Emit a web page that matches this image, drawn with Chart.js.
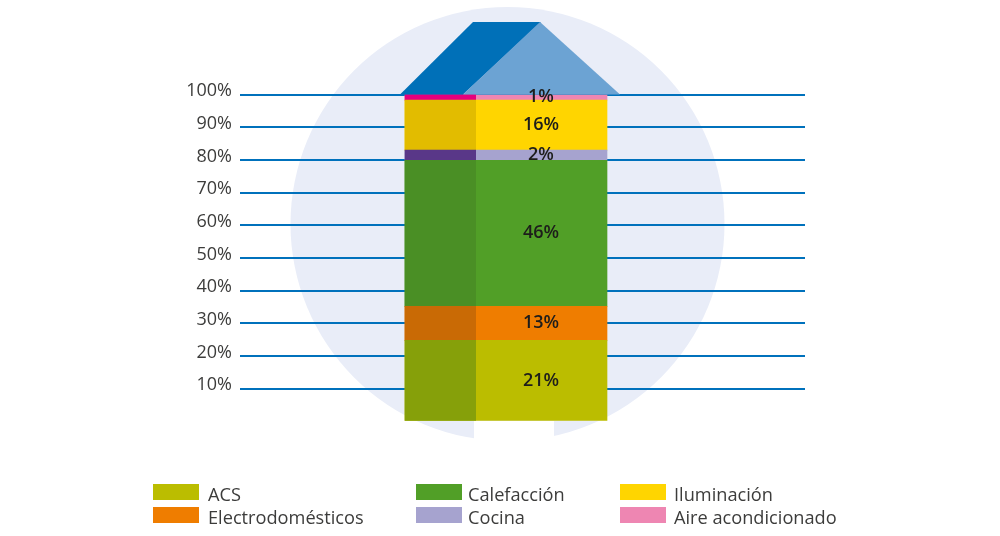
<!DOCTYPE html>
<html>
<head>
<meta charset="utf-8">
<style>
  html, body { margin: 0; padding: 0; background: #fff; }
  canvas { display: block; }
</style>
<script src="https://cdn.jsdelivr.net/npm/chart.js@4/dist/chart.umd.min.js"></script>
</head>
<body>
<canvas id="houseChart" width="1000" height="536"></canvas>
<script>
// de abajo arriba, alturas (no coinciden del todo con las etiquetas)
const categories = ['ACS', 'Electrodomésticos', 'Calefacción', 'Cocina', 'Iluminación', 'Aire acondicionado'];
const heights = [24.8, 10.4, 44.7, 3.1, 15.3, 1.7];
const printedLabels = ['21%', '13%', '46%', '2%', '16%', '1%'];
const frontColors = ['#BBBD00', '#EF7D00', '#519F27', '#A6A3CF', '#FFD500', '#EE86B2'];
const sideColors = ['#86A00A', '#C96A05', '#4A8F25', '#593788', '#E2BC00', '#E5007D'];

const FONT = '"Open Sans", Lato, sans-serif';
const LINE = '#0071BC';
const BAR_W = 202;
const SIDE_W = 71;

const legendRows = [
  { x: 153, text: 208, items: [0, 1] },
  { x: 416, text: 468, items: [2, 3] },
  { x: 620, text: 674, items: [4, 5] }
];

// circulo y notch de fondo
const backdrop = {
  id: 'backdrop',
  beforeDraw(chart) {
    const c = chart.ctx;
    c.save();
    c.fillStyle = '#E9EDF8';
    c.beginPath();
    c.arc(507.5, 224, 217, 0, Math.PI * 2);
    c.fill();
    c.fillStyle = '#fff';
    c.fillRect(474, 421, 80, 30);
    c.restore();
  }
};

// tejado, porcentajes y leyenda
const overlay = {
  id: 'overlay',
  afterDatasetsDraw(chart) {
    const c = chart.ctx;
    const y = chart.scales.y;
    const base = y.getPixelForValue(100);
    c.save();
    c.fillStyle = '#0070B8';
    c.beginPath();
    c.moveTo(473, 22); c.lineTo(541, 22); c.lineTo(463, base); c.lineTo(400, base);
    c.closePath(); c.fill();
    c.fillStyle = '#6CA3D3';
    c.beginPath();
    c.moveTo(540, 22); c.lineTo(620, base); c.lineTo(463, base);
    c.closePath(); c.fill();

    c.fillStyle = '#1D1D1B';
    c.font = '600 18px ' + FONT;
    c.textAlign = 'center';
    c.textBaseline = 'middle';
    let sum = 0;
    heights.forEach((h, i) => {
      c.fillText(printedLabels[i], 541, y.getPixelForValue(sum + h / 2) - 0.5);
      sum += h;
    });

    c.font = '18.2px ' + FONT;
    c.textAlign = 'left';
    c.textBaseline = 'alphabetic';
    legendRows.forEach(col => {
      col.items.forEach((idx, row) => {
        const top = 484 + row * 23;
        c.fillStyle = frontColors[idx];
        c.fillRect(col.x, top, 46, 16);
        c.fillStyle = '#3C3C3B';
        c.fillText(categories[idx], col.text, top + 16.5);
      });
    });
    c.restore();
  }
};

const lineColor = ctx => ctx.tick && ctx.tick.value === 0 ? 'rgba(0,0,0,0)' : LINE;

const datasets = [];
categories.forEach((name, i) => {
  datasets.push({
    label: name,
    data: [heights[i]],
    backgroundColor: frontColors[i],
    stack: 'front',
    grouped: false,
    barThickness: BAR_W,
    maxBarThickness: BAR_W,
    order: 2
  });
});
categories.forEach((name, i) => {
  datasets.push({
    label: name + ' (lateral)',
    data: [heights[i]],
    backgroundColor: sideColors[i],
    stack: 'side',
    grouped: false,
    barThickness: BAR_W,
    maxBarThickness: BAR_W,
    order: 1,
    // solo la franja izquierda de la barra
    clip: { left: 0, top: 2, bottom: 2, right: (405 + SIDE_W) - 772 }
  });
});

new Chart(document.getElementById('houseChart'), {
  type: 'bar',
  data: { labels: ['Consumo'], datasets },
  plugins: [backdrop, overlay],
  options: {
    responsive: false,
    devicePixelRatio: 1,
    animation: false,
    layout: { padding: { top: 94.5, bottom: 114.5, right: 195, left: 0 } },
    plugins: { legend: { display: false }, tooltip: { enabled: false } },
    scales: {
      x: { display: false },
      y: {
        stacked: true,
        min: 0,
        max: 100,
        afterFit(s) { s.width = 240; },
        border: { display: false },
        grid: { color: lineColor, lineWidth: 2, drawTicks: false },
        ticks: {
          stepSize: 10,
          padding: 8,
          labelOffset: -3.5,
          color: '#3C3C3B',
          font: { family: FONT, size: 18 },
          callback: v => v === 0 ? '' : v + '%'
        }
      },
      y2: {
        position: 'right',
        min: 0,
        max: 100,
        afterFit(s) { s.width = 33; },
        border: { display: false },
        grid: { drawOnChartArea: false, color: lineColor, lineWidth: 2, tickLength: 33 },
        ticks: { stepSize: 10, padding: 0, callback: () => '' }
      }
    }
  }
});
</script>
</body>
</html>
